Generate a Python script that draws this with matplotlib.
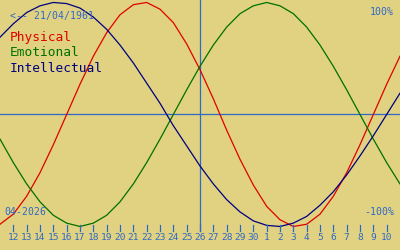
import numpy as np
import matplotlib
matplotlib.use("Agg")
import matplotlib.pyplot as plt
import matplotlib.transforms as mtransforms

# biorhythm for someone born 21/04/1961, window 11/04/2026 .. 11/05/2026
# values in percent, one per day (first and last day are just off the edges)
physical = [-98, -89, -73, -52, -27, 0, 27, 52, 73, 89, 98, 100, 94, 82, 63, 40,
            14, -14, -40, -63, -82, -94, -100, -98, -89, -73, -52, -27, 0, 27, 52]
emotional = [-22, -43, -62, -78, -90, -97, -100, -97, -90, -78, -62, -43, -22, 0,
             22, 43, 62, 78, 90, 97, 100, 97, 90, 78, 62, 43, 22, 0, -22, -43, -62]
intellectual = [69, 81, 91, 97, 100, 99, 95, 87, 76, 62, 46, 28, 10, -10, -28, -46,
                -62, -76, -87, -95, -99, -100, -97, -91, -81, -69, -54, -37, -19, 0, 19]
tick_labels = [str(d) for d in range(12, 31)] + [str(d) for d in range(1, 11)]
today_label = "26"
birth_label = "<-- 21/04/1961"
month_label = "04-2026"

bg = "#e0d280"
blue = "#3068c8"
mono = "DejaVu Sans Mono"

days = np.arange(len(physical)) - 1

fig = plt.figure(figsize=(4, 2.5), dpi=100, facecolor=bg)
ax = fig.add_axes([0, 0, 1, 1])
ax.set_facecolor(bg)
ax.set_xlim(-1, 29)
ax.set_ylim(-121.0, 102.2)
ax.axis("off")

trans = mtransforms.blended_transform_factory(ax.transData, ax.transAxes)

# zero line and today marker
ax.axhline(0, color=blue, lw=0.9)
today = tick_labels.index(today_label)
ax.plot([today, today], [0.076, 1], color=blue, lw=0.9, transform=trans)

ax.plot(days, physical, color="#e00000", lw=0.9)
ax.plot(days, emotional, color="#007000", lw=0.9)
ax.plot(days, intellectual, color="#000080", lw=0.9)

# day ticks along the bottom
for i, lab in enumerate(tick_labels):
    ax.plot([i, i], [0.076, 0.1], color=blue, lw=0.9, transform=trans)
    ax.text(i, 0.048, lab, color=blue, fontsize=6.8, family=mono,
            ha="center", va="center", transform=trans)

ax.text(10 / 400, 1 - 16 / 250, birth_label, color=blue, fontsize=7.1,
        family=mono, ha="left", va="center", transform=ax.transAxes)
ax.text(10 / 400, 1 - 38 / 250, "Physical", color="#e00000", fontsize=9.3,
        family=mono, ha="left", va="center", transform=ax.transAxes)
ax.text(10 / 400, 1 - 53 / 250, "Emotional", color="#007000", fontsize=9.3,
        family=mono, ha="left", va="center", transform=ax.transAxes)
ax.text(10 / 400, 1 - 68 / 250, "Intellectual", color="#000080", fontsize=9.3,
        family=mono, ha="left", va="center", transform=ax.transAxes)
ax.text(394 / 400, 1 - 12 / 250, "100%", color=blue, fontsize=7.1,
        family=mono, ha="right", va="center", transform=ax.transAxes)
ax.text(394 / 400, 1 - 212 / 250, "-100%", color=blue, fontsize=7.1,
        family=mono, ha="right", va="center", transform=ax.transAxes)
ax.text(4 / 400, 1 - 212 / 250, month_label, color=blue, fontsize=7.1,
        family=mono, ha="left", va="center", transform=ax.transAxes)

fig.savefig("out.png", dpi=100, facecolor=bg)
